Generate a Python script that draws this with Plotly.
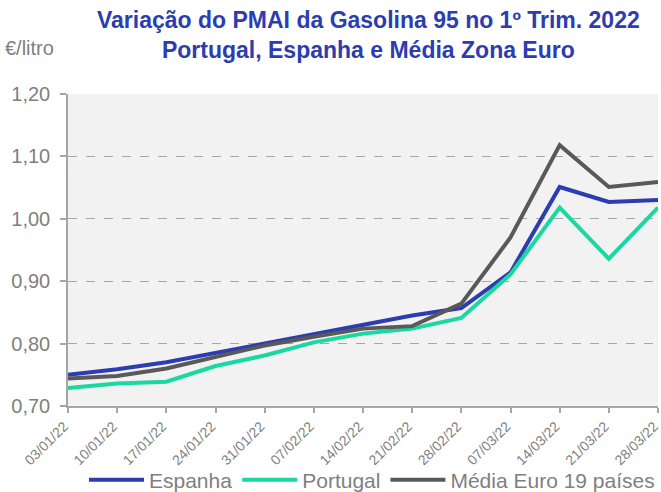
import plotly.graph_objects as go

dates = ["03/01/22", "10/01/22", "17/01/22", "24/01/22", "31/01/22", "07/02/22", "14/02/22",
         "21/02/22", "28/02/22", "07/03/22", "14/03/22", "21/03/22", "28/03/22"]
espanha = [0.750, 0.759, 0.770, 0.785, 0.800, 0.816, 0.830, 0.845, 0.857, 0.914, 1.051, 1.027, 1.030]
portugal = [0.729, 0.736, 0.739, 0.764, 0.781, 0.802, 0.816, 0.824, 0.841, 0.911, 1.018, 0.936, 1.018]
media_euro = [0.744, 0.748, 0.760, 0.779, 0.797, 0.811, 0.824, 0.828, 0.864, 0.970, 1.118, 1.051, 1.059]
y_ticks = [0.70, 0.80, 0.90, 1.00, 1.10, 1.20]
y_tick_labels = ["0,70", "0,80", "0,90", "1,00", "1,10", "1,20"]

W, H = 661, 492
L, R, T, B = 68, 3, 94, 86
pw, ph = W - L - R, H - T - B

FONT = "Liberation Sans, Arial, sans-serif"
GRAY = "#7f7f7f"
AXIS = "#a6a6a6"

fig = go.Figure()
series = [("Espanha", espanha, "#2B3DB0"),
          ("Portugal", portugal, "#19D8A0"),
          ("Média Euro 19 países", media_euro, "#595959")]
for name, vals, col in series:
    fig.add_trace(go.Scatter(x=dates, y=vals, name=name, mode="lines",
                             line=dict(color=col, width=4)))

fig.update_layout(
    width=W, height=H,
    margin=dict(l=L, r=R, t=T, b=B, pad=0, autoexpand=False),
    paper_bgcolor="white", plot_bgcolor="#f2f2f2",
    font=dict(family=FONT, color=GRAY, size=20),
    showlegend=True,
    legend=dict(orientation="h", x=(372 - L) / pw, xanchor="center",
                y=(H - B - 480) / ph, yanchor="middle",
                font=dict(size=21, color=GRAY), bgcolor="rgba(0,0,0,0)",
                itemwidth=55, tracegroupgap=0),
    xaxis=dict(type="category", range=[0, len(dates) - 1], showgrid=False,
               showline=True, linecolor=AXIS, linewidth=1.5,
               ticks="outside", ticklen=5, tickcolor=AXIS, tickwidth=1.5,
               tickangle=-45, tickfont=dict(size=14, color=GRAY),
               ticklabelshift=-4, ticklabelstandoff=0,
               zeroline=False, automargin=False),
    yaxis=dict(range=[0.70, 1.20], tickvals=y_ticks, ticktext=y_tick_labels,
               showgrid=True, gridcolor=AXIS, griddash="dash", gridwidth=1,
               showline=True, linecolor=AXIS, linewidth=1.5,
               ticks="outside", ticklen=6, tickcolor=AXIS, tickwidth=1.5,
               ticklabelstandoff=6,
               tickfont=dict(size=20, color=GRAY), zeroline=False, automargin=False),
    annotations=[
        dict(text="<b>Variação do PMAI da Gasolina 95 no 1º Trim. 2022<br>Portugal, Espanha e Média Zona Euro</b>",
             xref="paper", yref="paper", x=(369 - L) / pw, y=1 + (T - 5) / ph,
             xanchor="center", yanchor="top", showarrow=False, align="center",
             font=dict(family=FONT, size=23, color="#2B3DB0")),
        dict(text="€/litro", xref="paper", yref="paper", x=(3 - L) / pw, y=1 + (T - 47.5) / ph,
             xanchor="left", yanchor="middle", showarrow=False,
             font=dict(family=FONT, size=20, color=GRAY)),
    ],
)

fig.write_html("out.html", config={"displayModeBar": False},
               post_script="document.body.style.margin='0px';")
